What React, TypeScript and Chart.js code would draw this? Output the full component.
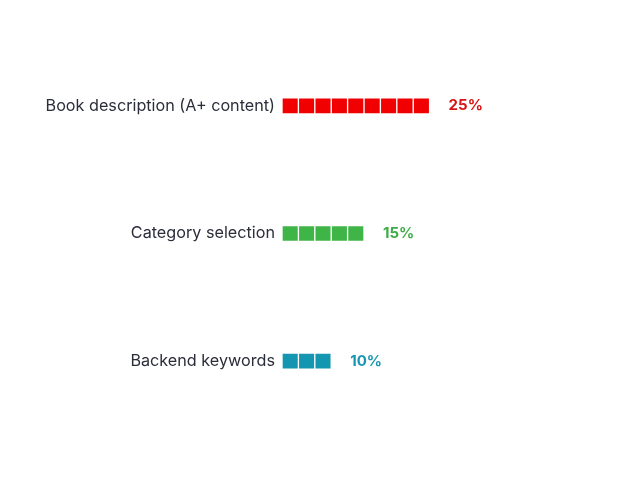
import React, { useEffect, useRef } from "react";
import { Chart, registerables } from "chart.js";

Chart.register(...registerables);

const categories = ["Book description (A+ content)", "Category selection", "Backend keywords"];
const squares = [9, 5, 3];
const percentLabels = ["25%", "15%", "10%"];
const barColors = ["#F00000", "#3FB548", "#1496B0"];
const labelColors = ["#D91414", "#3DAD45", "#1796B3"];
const maxSquares = 9;

const percentPlugin = {
  id: "percentLabels",
  afterDatasetsDraw(chart: any) {
    const { ctx, scales } = chart;
    const xs = scales.x;
    const ys = scales.y;
    ctx.save();
    ctx.font = "bold 15px Inter, 'Open Sans', sans-serif";
    ctx.textAlign = "left";
    ctx.textBaseline = "middle";
    categories.forEach((_, i) => {
      const x = xs.getPixelForValue(squares[i]) + 19;
      const y = ys.getPixelForValue(i);
      ctx.fillStyle = labelColors[i];
      ctx.fillText(percentLabels[i], x, y);
    });
    ctx.restore();
  },
};

export default function App() {
  const ref = useRef<HTMLCanvasElement>(null);
  useEffect(() => {
    if (!ref.current) return;
    const datasets = [] as any[];
    for (let k = 0; k < maxSquares; k++) {
      datasets.push({
        data: squares.map((s) => (k < s ? 1 : 0)),
        backgroundColor: barColors,
        borderColor: "#ffffff",
        borderWidth: 1,
        borderSkipped: false,
        barThickness: 16,
        stack: "s",
      });
    }
    const chart = new Chart(ref.current, {
      type: "bar",
      data: { labels: categories, datasets },
      options: {
        indexAxis: "y",
        animation: false,
        responsive: false,
        maintainAspectRatio: false,
        layout: { padding: { top: 42, bottom: 55, left: 0, right: 30 } },
        plugins: { legend: { display: false }, tooltip: { enabled: false } },
        scales: {
          x: {
            stacked: true,
            min: 0,
            max: 20,
            display: false,
          },
          y: {
            stacked: true,
            grid: { display: false, drawTicks: false },
            border: { display: false },
            afterFit: (s: any) => {
              s.width = 282;
            },
            ticks: {
              padding: 7,
              color: "#2b2d3a",
              font: { family: "Inter, 'Open Sans', sans-serif", size: 16.2 },
            },
          },
        },
      },
      plugins: [percentPlugin],
    });
    return () => chart.destroy();
  }, []);
  return (
    <div style={{ position: "fixed", left: 0, top: 0, width: 640, height: 480, background: "#fff" }}>
      <canvas ref={ref} width={640} height={480} style={{ width: 640, height: 480 }} />
    </div>
  );
}
